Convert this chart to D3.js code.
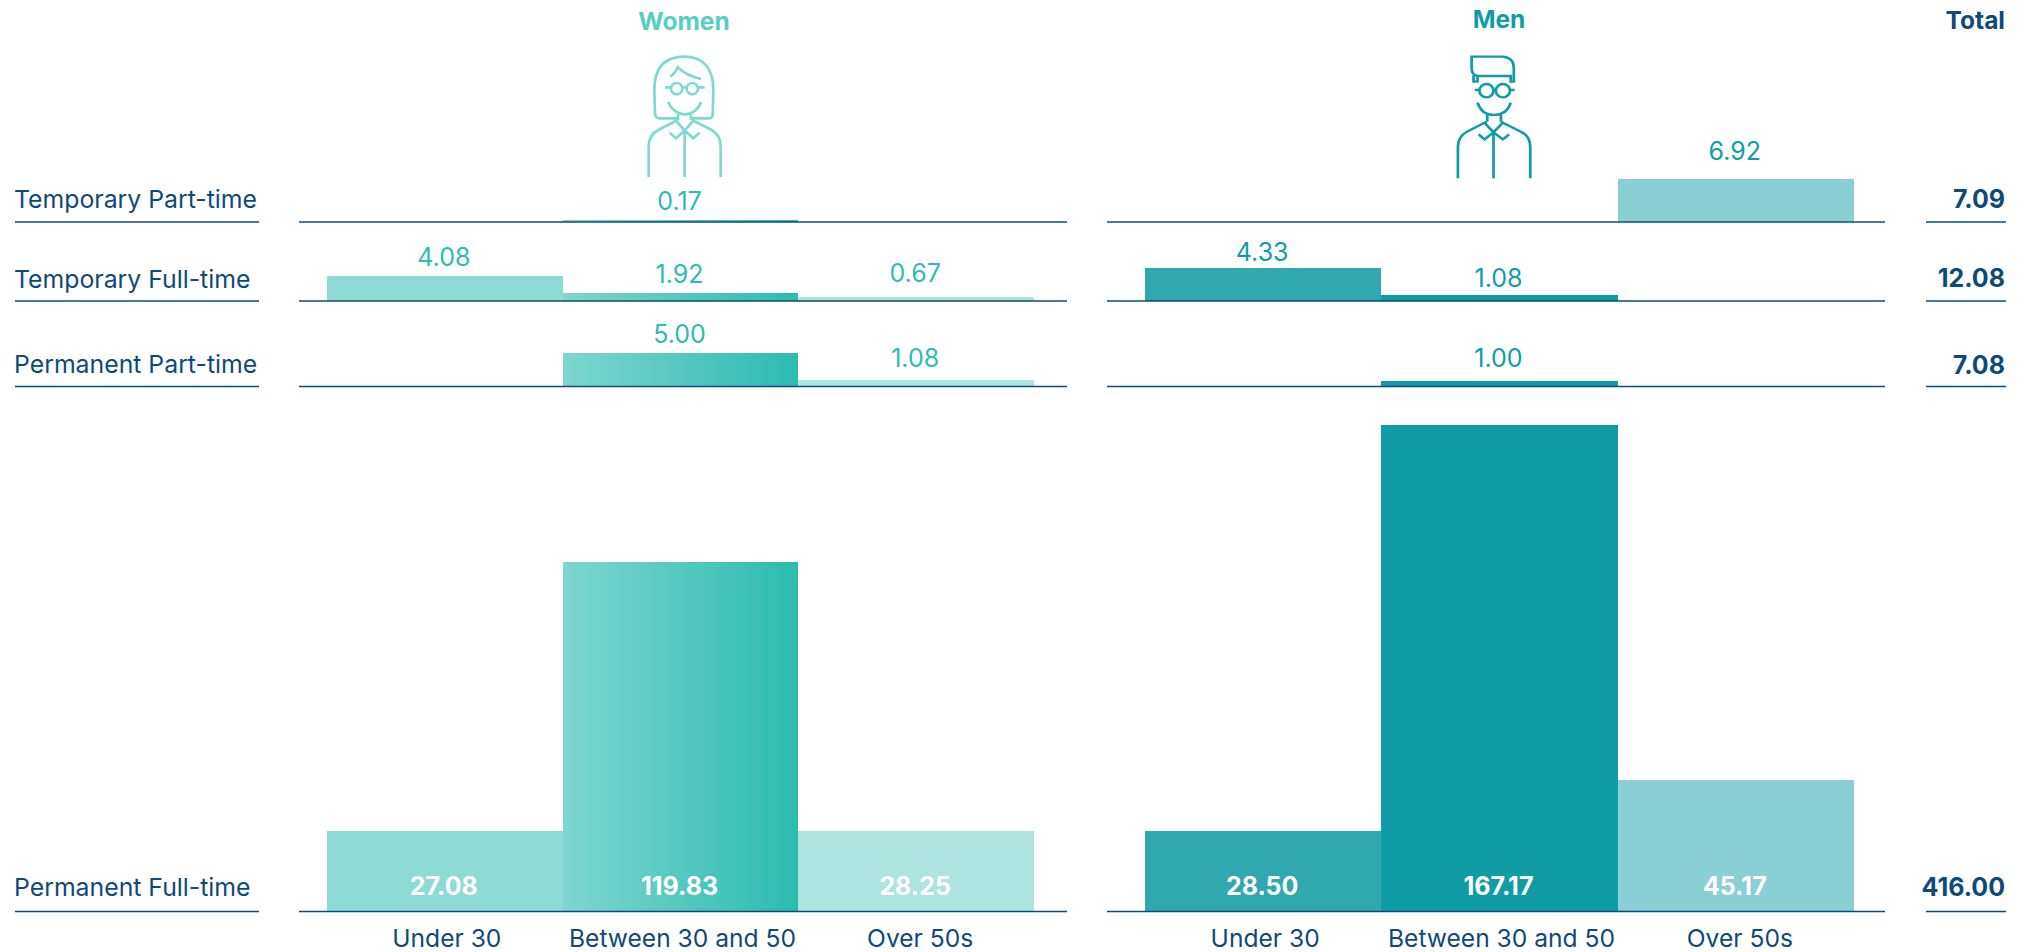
<!DOCTYPE html>
<html lang="en">
<head>
<meta charset="utf-8">
<title>Employees</title>
<script src="https://cdn.jsdelivr.net/npm/d3@7"></script>
<style>html,body{margin:0;padding:0;background:#fff}svg{display:block}</style>
</head>
<body>
<script>
var groups = ["Under 30", "Between 30 and 50", "Over 50s"];
var rows = ["Temporary Part-time", "Temporary Full-time", "Permanent Part-time", "Permanent Full-time"];
var women = [[null, 0.17, null], [4.08, 1.92, 0.67], [null, 5.00, 1.08], [27.08, 119.83, 28.25]];
var men = [[null, null, 6.92], [4.33, 1.08, null], [null, 1.00, null], [28.50, 167.17, 45.17]];
var totals = ["7.09", "12.08", "7.08", "416.00"];

// layout
var baselines = [222, 301, 386.5, 911.5];
var rowLabelDy = [-14, -13, -14, -16];
var totalDy = [-14, -14, -13, -16];
var tickDx = [2, 2, 4];
var womenNudge = {"1-2": -5, "2-2": -3};
var menNudge = {"0-2": -9, "1-0": 3, "1-1": 2, "2-1": -4};

var svg = d3.select("body").append("svg").attr("width", 2033).attr("height", 952);
var navy = "#0d4a7a";
var font = "Inter, 'Noto Sans', sans-serif";

// the bars in the original are not drawn to one scale, so both scales are piecewise
var ySmall = d3.scaleLinear()
  .domain([0, 0.17, 0.67, 1, 1.08, 1.92, 4.08, 4.33, 5, 6.92])
  .range([0, 2.5, 4, 5.5, 6.5, 8, 25, 33, 33.5, 43]);
var yBig = d3.scaleLinear()
  .domain([0, 27.08, 28.5, 45.17, 119.83, 167.17])
  .range([0, 80.5, 80.5, 131.5, 350, 486.5]);

var grad = svg.append("defs").append("linearGradient").attr("id", "wgrad");
grad.append("stop").attr("offset", "0").attr("stop-color", "#7fd6ce");
grad.append("stop").attr("offset", "1").attr("stop-color", "#2bbbb1");

function panel(data, x0, x1, lineX0, lineX1, fills, labelColor, nudge) {
  var x = d3.scaleBand().domain(groups).range([x0, x1]);
  rows.forEach(function (row, r) {
    var big = r === 3;
    var y = big ? yBig : ySmall;
    data[r].forEach(function (v, i) {
      if (v === null) return;
      var h = y(v);
      svg.append("rect").attr("x", x(groups[i])).attr("width", x.bandwidth())
        .attr("y", baselines[r] - h).attr("height", h).attr("fill", fills[i])
        .attr("shape-rendering", "crispEdges");
      svg.append("text").attr("x", x(groups[i]) + x.bandwidth() / 2 + (big ? -1 : -1))
        .attr("y", big ? baselines[r] - 17 : baselines[r] - h - 10 + (nudge[r + "-" + i] || 0))
        .attr("text-anchor", "middle").attr("font-family", font)
        .attr("font-size", 25).attr("font-weight", big ? 700 : 400)
        .attr("fill", big ? "#fff" : labelColor).text(d3.format(".2f")(v));
    });
    svg.append("line").attr("x1", lineX0).attr("x2", lineX1)
      .attr("y1", baselines[r]).attr("y2", baselines[r])
      .attr("stroke", navy).attr("stroke-width", r < 2 ? 1.3 : 1.7);
  });
  groups.forEach(function (g, i) {
    svg.append("text").attr("x", x(g) + x.bandwidth() / 2 + tickDx[i]).attr("y", 947)
      .attr("text-anchor", "middle").attr("font-family", font)
      .attr("font-size", 24.6).attr("fill", navy).text(g);
  });
}

panel(women, 327, 1034, 299, 1067, ["#8edad4", "url(#wgrad)", "#ade4e0"], "#2dbcb1", womenNudge);
panel(men, 1145, 1854, 1107, 1885, ["#2fa8b0", "#109ca5", "#89cfd3"], "#109ca5", menNudge);

rows.forEach(function (row, r) {
  var w = r < 2 ? 1.3 : 1.7;
  svg.append("text").attr("x", 14).attr("y", baselines[r] + rowLabelDy[r]).attr("font-family", font)
    .attr("font-size", 24.8).attr("fill", navy).text(row);
  svg.append("line").attr("x1", 15).attr("x2", 259).attr("y1", baselines[r]).attr("y2", baselines[r])
    .attr("stroke", navy).attr("stroke-width", w);
  svg.append("line").attr("x1", 1926).attr("x2", 2006).attr("y1", baselines[r]).attr("y2", baselines[r])
    .attr("stroke", navy).attr("stroke-width", w);
  svg.append("text").attr("x", 2005).attr("y", baselines[r] + totalDy[r]).attr("text-anchor", "end")
    .attr("font-family", font).attr("font-size", 25).attr("font-weight", 700).attr("fill", navy).text(totals[r]);
});

svg.append("text").attr("x", 684).attr("y", 30).attr("text-anchor", "middle").attr("font-family", font)
  .attr("font-size", 24.5).attr("font-weight", 700).attr("fill", "#56cfc3").text("Women");
svg.append("text").attr("x", 1499).attr("y", 28).attr("text-anchor", "middle").attr("font-family", font)
  .attr("font-size", 24.5).attr("font-weight", 700).attr("fill", "#109ca5").text("Men");
svg.append("text").attr("x", 2005).attr("y", 29).attr("text-anchor", "end").attr("font-family", font)
  .attr("font-size", 24.5).attr("font-weight", 700).attr("fill", navy).text("Total");

// line icons
var womanIcon = [
  "M235 355L178 355Q165 355 165 340L163 270C163 200 195 170 253 170C310 170 340 205 340 270L338 345Q338 355 325 355L275 355",
  "M210 230Q225 222 233 202Q260 228 303 237",
  "M195 262L213 262M247 262L260 262M295 262L314 262",
  "M204 306C215 330 235 343 254 343C275 343 295 330 303 306",
  "M234 343L234 360M273 343L273 360",
  "M232 360L175 390C155 400 146 415 146 440L146 531",
  "M276 360L335 390C352 400 362 415 362 440L362 531",
  "M254 392L254 531",
  "M228 362L254 392L280 362M209 398L228 415L254 392L280 415L299 398"
];
var manIcon = [
  "M132 170L210 170Q240 172 240 205L240 245L232 245L232 228L148 228Q132 226 132 205Z",
  "M137 226L137 245L147 245L147 228",
  "M140 270L152 270M188 270L194 270M228 270L242 270",
  "M147 308C155 335 170 345 188 345C207 345 225 335 232 308",
  "M172 345L172 365M207 345L207 365",
  "M170 365L120 395C105 405 97 420 97 440L97 535",
  "M207 365L258 395C275 405 282 420 282 440L282 535",
  "M188 397L188 535",
  "M165 368L188 397L212 368M150 403L165 418L188 397L212 418L228 403"
];

var wg = svg.append("g").attr("transform", "translate(600,0) scale(0.3333)")
  .attr("fill", "none").attr("stroke", "#7fd9d0").attr("stroke-width", 8);
womanIcon.forEach(function (d) { wg.append("path").attr("d", d); });
wg.selectAll("circle").data([230, 277]).enter().append("circle")
  .attr("cx", function (d) { return d; }).attr("cy", 266).attr("r", 17);

var mg = svg.append("g").attr("transform", "translate(1420,0) scale(0.391,0.3333)")
  .attr("fill", "none").attr("stroke", "#109ca5").attr("stroke-width", 7);
manIcon.forEach(function (d) { mg.append("path").attr("d", d); });
mg.selectAll("ellipse").data([170, 212]).enter().append("ellipse")
  .attr("cx", function (d) { return d; }).attr("cy", 272).attr("rx", 18).attr("ry", 20);
</script>
</body>
</html>
